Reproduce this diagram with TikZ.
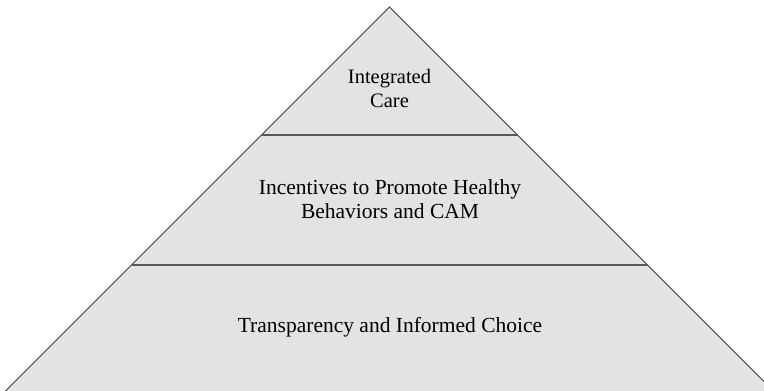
\documentclass[tikz,border=0pt]{standalone}
\usepackage{fontspec}
\setmainfont{Liberation Serif}
\begin{document}
\begin{tikzpicture}[x=1pt,y=-1pt,
  tier/.style={font=\fontsize{21.5}{24}\selectfont, align=center, text=black, inner sep=0pt},
  toptier/.style={font=\fontsize{20.5}{24}\selectfont, align=center, text=black, inner sep=0pt},
  divider/.style={draw=black!65, line width=1.6pt},
  outline/.style={draw=black!75, line width=0.8pt}]
\useasboundingbox (0,0) rectangle (764,391);
% pyramid body
\coordinate (apex) at (389.5,7);
\coordinate (bl) at (5.5,391);
\coordinate (br) at (773.5,391);
\fill[black!11] (bl) -- (apex) -- (br) -- cycle;
\draw[outline] (bl) -- (apex) -- (br);
% tier dividers
\coordinate (d1l) at (261.5,135);
\coordinate (d1r) at (517.5,135);
\coordinate (d2l) at (131.5,265);
\coordinate (d2r) at (647.5,265);
\draw[divider] (d1l) -- (d1r);
\draw[divider] (d2l) -- (d2r);
% tier labels (base anchor sits on the last line)
\node[toptier, anchor=base] (top) at (389.5,107) {Integrated\\Care};
\node[tier, anchor=base] (mid) at (390,218) {Incentives to Promote Healthy\\Behaviors and CAM};
\node[tier, anchor=base] (base) at (390,332) {Transparency and Informed Choice};
\end{tikzpicture}
\end{document}
